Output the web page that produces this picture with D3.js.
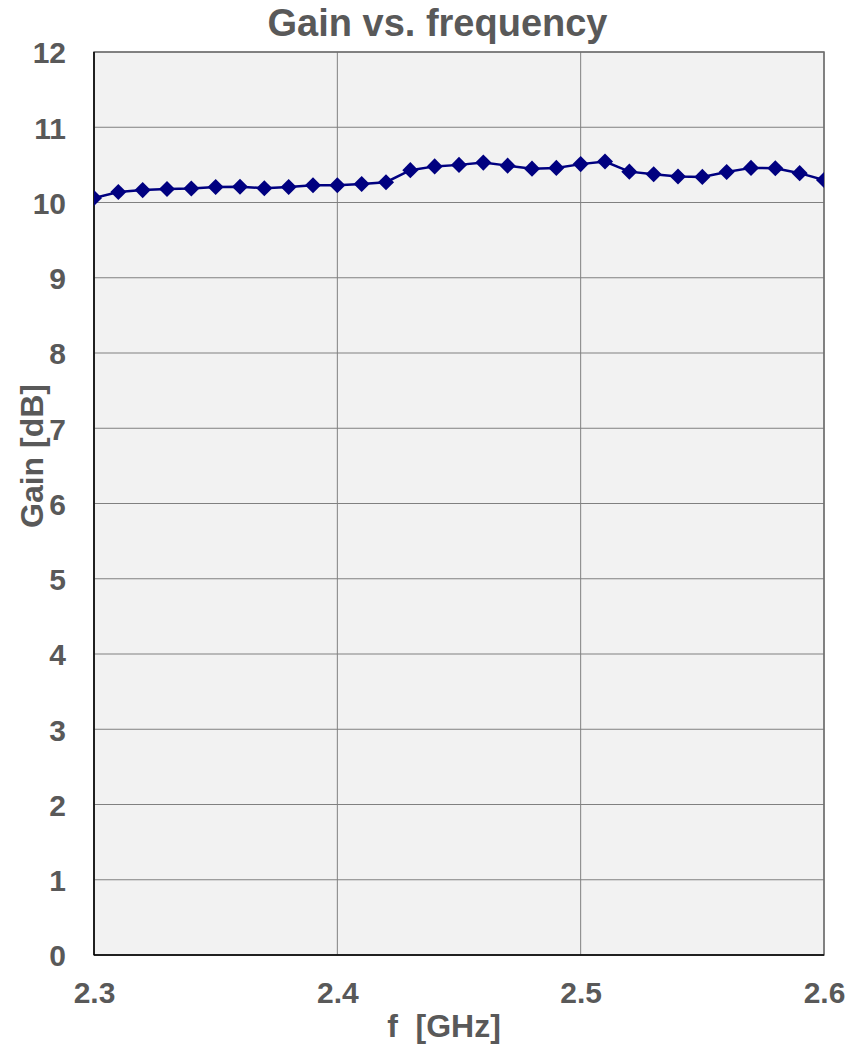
<!DOCTYPE html>
<html><head><meta charset="utf-8">
<script src="https://cdn.jsdelivr.net/npm/d3@7"></script>
<style>body{margin:0;background:#fff;}svg{display:block;font-family:"Liberation Sans",Arial,sans-serif;}</style>
</head><body>
<script>
const freq = [2.29,2.30,2.31,2.32,2.33,2.34,2.35,2.36,2.37,2.38,2.39,2.40,2.41,2.42,2.43,2.44,2.45,2.46,2.47,2.48,2.49,2.50,2.51,2.52,2.53,2.54,2.55,2.56,2.57,2.58,2.59,2.60];
const gain = [9.98,10.06,10.14,10.165,10.18,10.185,10.205,10.21,10.19,10.205,10.23,10.23,10.245,10.27,10.43,10.48,10.50,10.53,10.49,10.45,10.46,10.51,10.545,10.41,10.375,10.345,10.34,10.405,10.46,10.455,10.39,10.30];
const xTicks = [2.3,2.4,2.5,2.6];
const yTicks = [0,1,2,3,4,5,6,7,8,9,10,11,12];

const W=864,H=1044;
const m={left:94,right:40,top:52,bottom:89};
const svg=d3.select("body").append("svg").attr("width",W).attr("height",H);
const x=d3.scaleLinear().domain([2.3,2.6]).range([m.left,W-m.right]);
const y=d3.scaleLinear().domain([0,12]).range([H-m.bottom,m.top]);
const txt="#595959";
const FF="Liberation Sans, Arial, sans-serif";

svg.append("rect").attr("x",x(2.3)).attr("y",y(12)).attr("width",x(2.6)-x(2.3)).attr("height",y(0)-y(12)).attr("fill","#f2f2f2");

svg.append("defs").append("clipPath").attr("id","clip").append("rect")
  .attr("x",x(2.3)).attr("y",y(12)).attr("width",x(2.6)-x(2.3)).attr("height",y(0)-y(12));

// grid
svg.append("g").selectAll("line").data(yTicks).join("line")
  .attr("x1",x(2.3)).attr("x2",x(2.6)).attr("y1",d=>y(d)).attr("y2",d=>y(d))
  .attr("stroke","#808080").attr("stroke-width",1);
svg.append("g").selectAll("line").data(xTicks).join("line")
  .attr("x1",d=>x(d)).attr("x2",d=>x(d)).attr("y1",y(0)).attr("y2",y(12))
  .attr("stroke","#808080").attr("stroke-width",1);

// axes labels
const yAxis=d3.axisLeft(y).tickValues(yTicks).tickSize(0).tickPadding(28);
const gy=svg.append("g").attr("transform",`translate(${x(2.3)},0)`).call(yAxis);
gy.select(".domain").remove();
gy.selectAll("text").attr("fill",txt).attr("font-size","30px").attr("font-weight","bold").attr("font-family",FF).attr("dy","0.36em");

const xAxis=d3.axisBottom(x).tickValues(xTicks).tickFormat(d3.format(".1f")).tickSize(0).tickPadding(26);
const gx=svg.append("g").attr("transform",`translate(0,${y(0)})`).call(xAxis);
gx.select(".domain").remove();
gx.selectAll("text").attr("fill",txt).attr("font-size","30px").attr("font-weight","bold").attr("font-family",FF)
  .attr("dy",null).attr("y",null).attr("transform","translate(0,48)");

// frame
svg.append("rect").attr("x",x(2.3)).attr("y",y(12)).attr("width",x(2.6)-x(2.3)).attr("height",y(0)-y(12))
  .attr("fill","none").attr("stroke","#6e6e6e").attr("stroke-width",1.5);
svg.append("line").attr("x1",x(2.3)).attr("x2",x(2.6)).attr("y1",y(0)).attr("y2",y(0)).attr("stroke","#000").attr("stroke-width",1.5);
svg.append("line").attr("x1",x(2.3)).attr("x2",x(2.3)).attr("y1",y(0)).attr("y2",y(12)).attr("stroke","#000").attr("stroke-width",1.5);

// series
const data=freq.map((f,i)=>({f,g:gain[i]}));
const plot=svg.append("g").attr("clip-path","url(#clip)");
plot.append("path").datum(data).attr("fill","none").attr("stroke","#000080").attr("stroke-width",2.5)
  .attr("d",d3.line().x(d=>x(d.f)).y(d=>y(d.g)));
plot.selectAll("path.pt").data(data).join("path").attr("class","pt")
  .attr("transform",d=>`translate(${x(d.f)},${y(d.g)})`)
  .attr("d",d3.symbol(d3.symbolDiamond2,165)())
  .attr("fill","#000080");

// titles
svg.append("text").attr("x",437.5).attr("y",36).attr("text-anchor","middle").attr("fill",txt)
  .attr("font-size","38px").attr("font-weight","bold").text("Gain vs. frequency");
svg.append("text").attr("x",444).attr("y",1037).attr("text-anchor","middle").attr("fill",txt)
  .attr("font-size","32px").attr("font-weight","bold").attr("xml:space","preserve").text("f  [GHz]");
svg.append("text").attr("transform","translate(43,456) rotate(-90)").attr("text-anchor","middle").attr("fill",txt)
  .attr("font-size","32px").attr("font-weight","bold").text("Gain [dB]");
</script>
</body></html>
